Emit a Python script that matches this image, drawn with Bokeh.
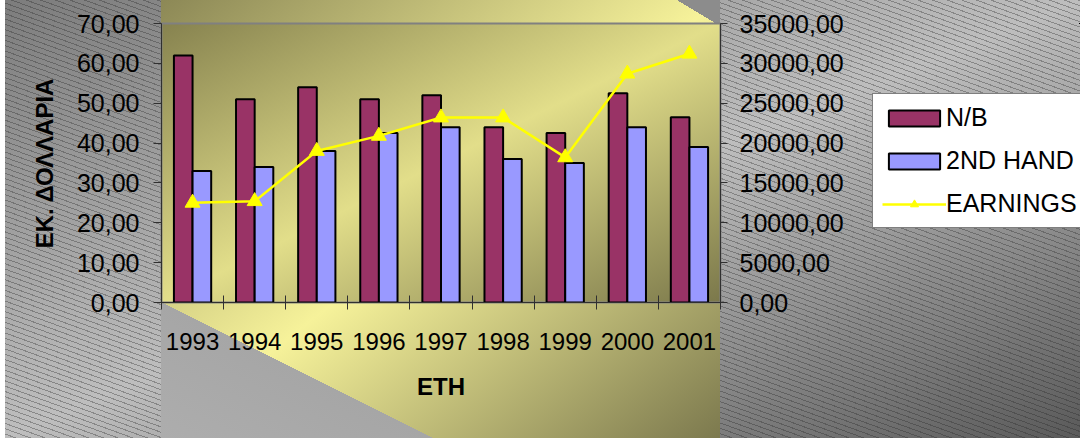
from bokeh.plotting import figure
from bokeh.layouts import row
from bokeh.models import Range1d, LinearAxis, FixedTicker, Legend, LegendItem
from bokeh.embed import file_html
from bokeh.resources import INLINE

# ---- data ----
years = ["1993", "1994", "1995", "1996", "1997", "1998", "1999", "2000", "2001"]
nb = [62.0, 51.0, 54.0, 51.0, 52.0, 44.0, 42.5, 52.5, 46.5]
second_hand = [33.0, 34.0, 38.0, 42.5, 44.0, 36.0, 35.0, 44.0, 39.0]
earnings = [12500, 12700, 19000, 20900, 23200, 23200, 18200, 28700, 31200]

left_ticks = [0, 10, 20, 30, 40, 50, 60, 70]
left_tick_labels = ["0,00", "10,00", "20,00", "30,00", "40,00", "50,00", "60,00", "70,00"]
right_ticks = [0, 5000, 10000, 15000, 20000, 25000, 30000, 35000]
right_tick_labels = ["0,00", "5000,00", "10000,00", "15000,00", "20000,00",
                     "25000,00", "30000,00", "35000,00"]

series_names = ["N/B", "2ND HAND", "EARNINGS"]
x_title = "ΕΤΗ"
y_title = "ΕΚ. ΔΟΛΛΑΡΙΑ"

FONT = "Liberation Sans"
NB_COLOR = "#993366"
SH_COLOR = "#9999FF"
EARN_COLOR = "#FFFF00"

n = len(years)
centers = [i + 0.5 for i in range(n)]
bounds = [float(i) for i in range(n + 1)]
bar_w = 0.3
x_nb = [c - bar_w / 2 for c in centers]
x_sh = [c + bar_w / 2 for c in centers]

# ---- background (Excel-like chart area fill) ----
bg_layers = [
    "linear-gradient(#ffffff,#ffffff) 0px 0px / 5px 100% no-repeat",
    "linear-gradient(to bottom right, #86824f 0%, #e2de8a 50%, #7b784b 100%) 161px 23px / 559px 279px no-repeat",
    "linear-gradient(to top right, rgba(0,0,0,0) 50%, #8c8c8c 50%) 677px 0px / 43px 26px no-repeat",
    "linear-gradient(to top right, #adadad 0%, #a6a6a6 50%, rgba(0,0,0,0) 50%) 161px 302px / 272px 136px no-repeat",
    "linear-gradient(to bottom right, #8c8856 0%, #f6f29a 50%, #7c794e 100%) 161px 0px / 559px 438px no-repeat",
    "repeating-linear-gradient(200deg, rgba(40,40,40,0.35) 0px, rgba(40,40,40,0.35) 1px, rgba(0,0,0,0) 1px, rgba(0,0,0,0) 5px)",
    "linear-gradient(to bottom right, #7c7c7c 0%, #bebebe 50%, #5a5a5a 100%)",
]

MAIN_W = 860
p = figure(width=MAIN_W, height=438, output_backend="svg", toolbar_location=None,
           x_range=Range1d(0, n), y_range=Range1d(0, 70),
           min_border_left=161, min_border_right=MAIN_W - 720,
           min_border_top=23, min_border_bottom=136)
p.border_fill_alpha = 0
p.background_fill_alpha = 0
p.outline_line_color = "#808080"
p.outline_line_width = 2
p.xgrid.visible = False
p.ygrid.visible = False

p.extra_y_ranges = {"earn": Range1d(0, 35000)}

# x axis
xa = p.xaxis[0]
xa.ticker = FixedTicker(ticks=centers, minor_ticks=bounds)
xa.major_label_overrides = {c: y for c, y in zip(centers, years)}
xa.major_tick_in = 0
xa.major_tick_out = 0
xa.minor_tick_in = 7
xa.minor_tick_out = 7
xa.minor_tick_line_color = "#303030"
xa.axis_line_color = "#303030"
xa.major_label_standoff = 23
xa.major_label_text_font = FONT
xa.major_label_text_font_size = "24px"
xa.major_label_text_color = "black"
xa.axis_label = x_title
xa.axis_label_text_font = FONT
xa.axis_label_text_font_size = "24px"
xa.axis_label_text_font_style = "bold"
xa.axis_label_text_color = "black"
xa.axis_label_standoff = 20

# left y axis
ya = p.yaxis[0]
ya.ticker = FixedTicker(ticks=left_ticks, minor_ticks=[])
ya.major_label_overrides = {t: s for t, s in zip(left_ticks, left_tick_labels)}
ya.major_tick_in = 0
ya.major_tick_out = 8
ya.major_tick_line_color = "#303030"
ya.minor_tick_line_color = None
ya.axis_line_color = "#303030"
ya.major_label_standoff = 14
ya.major_label_text_font = FONT
ya.major_label_text_font_size = "25px"
ya.major_label_text_color = "black"
ya.axis_label = y_title
ya.axis_label_text_font = FONT
ya.axis_label_text_font_size = "24px"
ya.axis_label_text_font_style = "bold"
ya.axis_label_text_color = "black"
ya.axis_label_standoff = 16

# right y axis
ra = LinearAxis(y_range_name="earn",
                ticker=FixedTicker(ticks=right_ticks, minor_ticks=[]))
ra.major_label_overrides = {t: s for t, s in zip(right_ticks, right_tick_labels)}
ra.major_tick_in = 0
ra.major_tick_out = 7
ra.major_tick_line_color = "#303030"
ra.minor_tick_line_color = None
ra.axis_line_color = "#303030"
ra.major_label_standoff = 12
ra.major_label_text_font = FONT
ra.major_label_text_font_size = "25px"
ra.major_label_text_color = "black"
p.add_layout(ra, "right")

# bars
p.vbar(x=x_nb, top=nb, width=bar_w, bottom=0,
       fill_color=NB_COLOR, line_color="black", line_width=2)
p.vbar(x=x_sh, top=second_hand, width=bar_w, bottom=0,
       fill_color=SH_COLOR, line_color="black", line_width=2)

# earnings line
p.line(x=centers, y=earnings, y_range_name="earn",
       line_color=EARN_COLOR, line_width=2.5)
p.scatter(x=centers, y=earnings, y_range_name="earn", marker="triangle",
          size=15, fill_color=EARN_COLOR, line_color=EARN_COLOR)

# ---- legend panel (separate transparent figure to the right) ----
# its renderers hold the same series but lie outside its (empty) ranges,
# so only the legend is seen there.
LEG_W = 1080 - MAIN_W
q = figure(width=LEG_W, height=438, output_backend="svg", toolbar_location=None,
           x_axis_location=None, y_axis_location=None,
           x_range=Range1d(-2, -1), y_range=Range1d(-2, -1),
           min_border=0)
q.border_fill_alpha = 0
q.background_fill_alpha = 0
q.outline_line_color = None
q.xgrid.visible = False
q.ygrid.visible = False

l_nb = q.vbar(x=x_nb, top=nb, width=bar_w, fill_color=NB_COLOR,
              line_color="black", line_width=2)
l_sh = q.vbar(x=x_sh, top=second_hand, width=bar_w, fill_color=SH_COLOR,
              line_color="black", line_width=2)
l_ln = q.line(x=centers, y=earnings, line_color=EARN_COLOR, line_width=2.5)
l_pt = q.scatter(x=centers, y=earnings, marker="triangle", size=15,
                 fill_color=EARN_COLOR, line_color=EARN_COLOR)

# q's frame is aligned with p's frame (top 23, bottom 302) by the row layout
legend = Legend(items=[
    LegendItem(label=series_names[0], renderers=[l_nb]),
    LegendItem(label=series_names[1], renderers=[l_sh]),
    LegendItem(label=series_names[2], renderers=[l_ln, l_pt]),
], location=(872 - MAIN_W, 302 - 228))
legend.background_fill_color = "white"
legend.background_fill_alpha = 1
legend.border_line_color = "black"
legend.border_line_width = 1.5
legend.padding = 9
legend.margin = 0
legend.spacing = 14
legend.glyph_width = 64
legend.glyph_height = 20
legend.label_standoff = 0
legend.label_text_font = FONT
legend.label_text_font_size = "25px"
legend.label_text_color = "black"
q.add_layout(legend, "center")

layout = row(p, q, spacing=0)
layout.styles = {"background": ", ".join(bg_layers)}

open("out.html", "w").write(file_html(layout, INLINE))
